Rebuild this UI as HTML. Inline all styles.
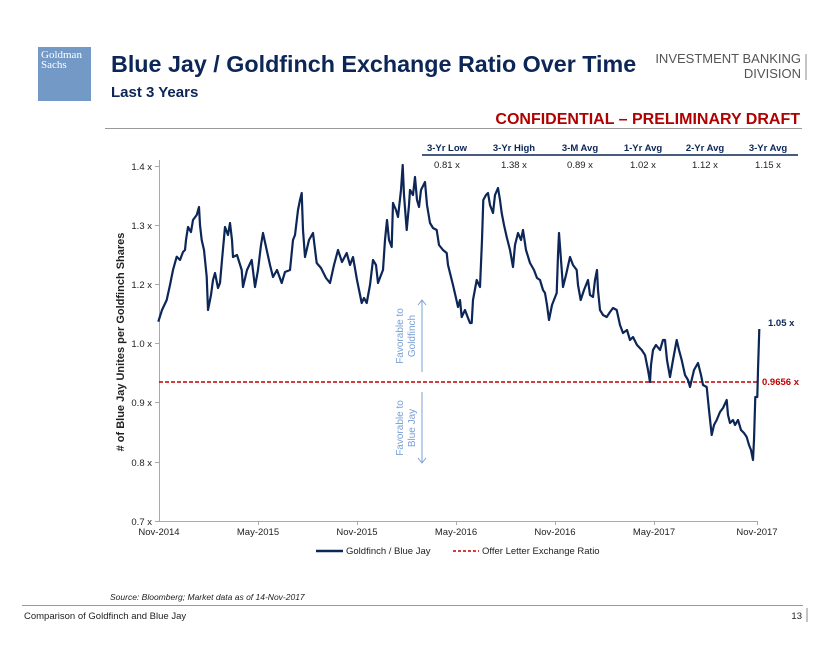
<!DOCTYPE html>
<html><head><meta charset="utf-8"><style>
html,body{margin:0;padding:0;background:#fff;}
svg{display:block;font-family:"Liberation Sans",Arial,sans-serif;}
</style></head><body>
<svg width="840" height="649" viewBox="0 0 840 649" xmlns="http://www.w3.org/2000/svg">
<rect width="840" height="649" fill="#fff"/>
<rect x="38" y="47" width="53" height="54" fill="#7399c6"/>
<text x="41" y="58" font-family="Liberation Serif,serif" font-size="11" fill="#fff">Goldman</text>
<text x="41" y="68" font-family="Liberation Serif,serif" font-size="11" fill="#fff">Sachs</text>
<text x="111" y="72" font-size="23.3" font-weight="bold" fill="#0c2657">Blue Jay / Goldfinch Exchange Ratio Over Time</text>
<text x="111" y="97" font-size="15" font-weight="bold" fill="#0c2657">Last 3 Years</text>
<text x="801" y="63" font-size="13" fill="#555" text-anchor="end">INVESTMENT BANKING</text>
<text x="801" y="78" font-size="13" fill="#555" text-anchor="end">DIVISION</text>
<line x1="806" y1="54" x2="806" y2="80" stroke="#888" stroke-width="1"/>
<text x="800" y="124" font-size="16" font-weight="bold" fill="#b00000" text-anchor="end">CONFIDENTIAL – PRELIMINARY DRAFT</text>
<line x1="105" y1="128.5" x2="802" y2="128.5" stroke="#999" stroke-width="1"/>
<g font-size="9.5" font-weight="bold" fill="#0c2657" text-anchor="middle">
<text x="447" y="151">3-Yr Low</text><text x="514" y="151">3-Yr High</text><text x="580" y="151">3-M Avg</text>
<text x="643" y="151">1-Yr Avg</text><text x="705" y="151">2-Yr Avg</text><text x="768" y="151">3-Yr Avg</text>
</g>
<line x1="422" y1="155" x2="798" y2="155" stroke="#0c2657" stroke-width="1.5"/>
<g font-size="9.5" fill="#222" text-anchor="middle">
<text x="447" y="168">0.81 x</text><text x="514" y="168">1.38 x</text><text x="580" y="168">0.89 x</text>
<text x="643" y="168">1.02 x</text><text x="705" y="168">1.12 x</text><text x="768" y="168">1.15 x</text>
</g>
<g stroke="#aaa" stroke-width="1">
<line x1="159.5" y1="160" x2="159.5" y2="521"/>
<line x1="159" y1="521.5" x2="758" y2="521.5"/>
<line x1="155" y1="166.5" x2="159" y2="166.5"/><line x1="155" y1="225.5" x2="159" y2="225.5"/>
<line x1="155" y1="284.5" x2="159" y2="284.5"/><line x1="155" y1="343.5" x2="159" y2="343.5"/>
<line x1="155" y1="402.5" x2="159" y2="402.5"/><line x1="155" y1="462.5" x2="159" y2="462.5"/>
<line x1="155" y1="521.5" x2="159" y2="521.5"/>
<line x1="258.5" y1="521" x2="258.5" y2="525"/><line x1="357.5" y1="521" x2="357.5" y2="525"/>
<line x1="456.5" y1="521" x2="456.5" y2="525"/><line x1="555.5" y1="521" x2="555.5" y2="525"/>
<line x1="654.5" y1="521" x2="654.5" y2="525"/><line x1="757.5" y1="521" x2="757.5" y2="525"/>
</g>
<g font-size="9.5" fill="#222" text-anchor="end">
<text x="152" y="170">1.4 x</text><text x="152" y="229">1.3 x</text><text x="152" y="288">1.2 x</text>
<text x="152" y="347">1.0 x</text><text x="152" y="406">0.9 x</text><text x="152" y="466">0.8 x</text>
<text x="152" y="525">0.7 x</text>
</g>
<g font-size="9.5" fill="#222" text-anchor="middle">
<text x="159" y="535">Nov-2014</text><text x="258" y="535">May-2015</text><text x="357" y="535">Nov-2015</text>
<text x="456" y="535">May-2016</text><text x="555" y="535">Nov-2016</text><text x="654" y="535">May-2017</text>
<text x="757" y="535">Nov-2017</text>
</g>
<text transform="translate(124,342) rotate(-90)" font-size="11" font-weight="bold" fill="#222" text-anchor="middle"># of Blue Jay Unites per Goldfinch Shares</text>
<g stroke="#7aa0d4" stroke-width="1" fill="none">
<line x1="422" y1="300" x2="422" y2="372"/><polyline points="418,305 422,300 426,305"/>
<line x1="422" y1="392" x2="422" y2="463"/><polyline points="418,458 422,463 426,458"/>
</g>
<g font-size="10" fill="#7aa0d4" text-anchor="middle">
<text transform="translate(403,336) rotate(-90)">Favorable to</text>
<text transform="translate(415,336) rotate(-90)">Goldfinch</text>
<text transform="translate(403,428) rotate(-90)">Favorable to</text>
<text transform="translate(415,428) rotate(-90)">Blue Jay</text>
</g>
<line x1="159" y1="382" x2="757" y2="382" stroke="#c00000" stroke-width="1.5" stroke-dasharray="4,2"/>
<polyline fill="none" stroke="#0c2657" stroke-width="2.2" stroke-linejoin="round" points="
158.3,321.7 162,310 166.7,300 170,285 173,270 176.7,256.7 180,260 183,252 185,250 186,240 188,227 191,232 193,220 196.7,215 199,207 200,225 201.7,240 204,250 206.7,276.7 208,310 211,295 213,280 215,273 218,288 220,283 222,260 225,227 228,235 230,223 232,240 233,257 237,255 241.7,270 243,287 247,270 251.7,260 255,287 258,270 261,245 263,233 266.7,250 270,265 273,277 277,270 281.7,283 285,272 290,270 293,240 295,235 298,210 300,200 301.7,193 303,230 305,257 309,240 313,233 316.7,263 321,268 326,278 330,283 334,265 338,250 342,262 346.7,253 350,265 353,257 357,280 361.7,303 364,298 366.7,303 370,285 373,260 376,265 378,283 381,275 383,270 385,240 387,220 389,240 391.7,247 393,203 396,210 398,217 401,190 402.7,165 404,195 406.7,230 409,205 410,190 413,195 415,177 417,200 419,207 421,190 425,182 427,205 430,223 433,228 436.7,230 439,245 443,250 446.7,253 448,265 450,273 453,285 456,298 458,307 460,300 461.7,317 465,310 468,318 470,323 471.7,323 473,300 476.7,280 480,287 482,240 483.3,200 486,195 488,193 490,205 493,213 495,195 498,188 500,200 501.7,213 504,225 506.7,237 510,250 513,267 515,245 518,233 521,240 523,230 526,250 530,263 534,270 537,278 540,280 543,290 545,293 547,305 549,320 552,305 556.7,293 558,255 559,233 561,260 563,287 566,275 570,257 573,265 576.7,270 578,285 580.7,300 584,290 588,280 590,295 593,297 595,280 597,270 598,290 600,310 603,315 606.7,317 610,312 613,308 616.7,310 620,325 623,333 627,330 630,340 633,337 637,345 641.7,350 645,355 648,370 650,382 651,365 653,350 656,345 660,350 663,340 665,340 667,360 670,377 673,360 676.7,340 679,350 681.7,360 685,375 688,380 690,387 694,370 698,363 701,375 703,385 706.7,387 709,410 711.7,435 714,425 716.7,420 720,412 723,408 726.7,400 728,415 730,423 733,420 735,425 738,420 741,430 744,433 746.7,437 749,445 751,450 753,460 754,440 755.3,397 757.3,397 758,370 759.3,329"/>
<text x="768" y="326" font-size="9.5" font-weight="bold" fill="#0c2657">1.05 x</text>
<text x="762" y="385" font-size="9.5" font-weight="bold" fill="#c00000">0.9656 x</text>
<line x1="316" y1="551" x2="343" y2="551" stroke="#0c2657" stroke-width="2.5"/>
<text x="346" y="554" font-size="9.5" fill="#222">Goldfinch / Blue Jay</text>
<line x1="453" y1="551" x2="479" y2="551" stroke="#c00000" stroke-width="1.5" stroke-dasharray="3,2"/>
<text x="482" y="554" font-size="9.5" fill="#222">Offer Letter Exchange Ratio</text>
<text x="110" y="600" font-size="8.5" font-style="italic" fill="#222">Source: Bloomberg; Market data as of 14-Nov-2017</text>
<line x1="22" y1="605.5" x2="803" y2="605.5" stroke="#999" stroke-width="1"/>
<text x="24" y="619" font-size="9.5" fill="#222">Comparison of Goldfinch and Blue Jay</text>
<text x="802" y="619" font-size="9.5" fill="#222" text-anchor="end">13</text>
<line x1="807" y1="608" x2="807" y2="622" stroke="#888" stroke-width="1"/>
</svg>
</body></html>
